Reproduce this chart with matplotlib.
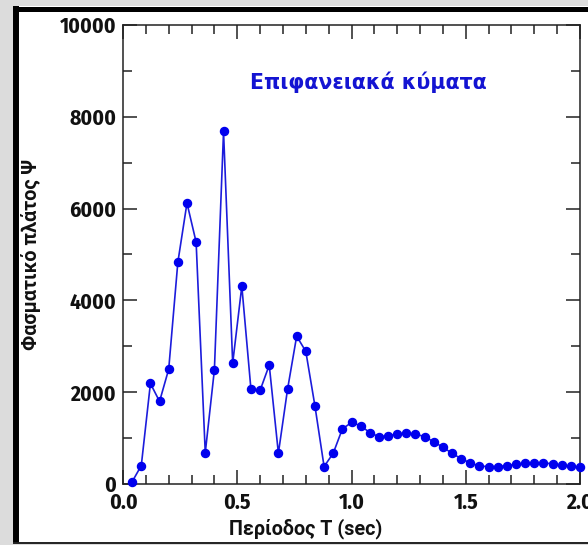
import numpy as np
import matplotlib
matplotlib.use("Agg")
import matplotlib.pyplot as plt
from matplotlib.lines import Line2D
from matplotlib.patches import Rectangle
from matplotlib.ticker import MultipleLocator

# period T (sec) and spectral amplitude
period = [0.04, 0.08, 0.12, 0.16, 0.20, 0.24, 0.28, 0.32, 0.36, 0.40,
          0.44, 0.48, 0.52, 0.56, 0.60, 0.64, 0.68, 0.72, 0.76, 0.80,
          0.84, 0.88, 0.92, 0.96, 1.00, 1.04, 1.08, 1.12, 1.16, 1.20,
          1.24, 1.28, 1.32, 1.36, 1.40, 1.44, 1.48, 1.52, 1.56, 1.60,
          1.64, 1.68, 1.72, 1.76, 1.80, 1.84, 1.88, 1.92, 1.96, 2.00]
amplitude = [50, 400, 2190, 1800, 2500, 4830, 6120, 5270, 680, 2490,
             7680, 2630, 4310, 2060, 2040, 2590, 670, 2060, 3220, 2890,
             1700, 380, 670, 1200, 1340, 1270, 1120, 1030, 1050, 1090,
             1110, 1090, 1030, 920, 800, 670, 550, 460, 390, 380,
             380, 400, 430, 450, 460, 460, 440, 410, 390, 360]

title = "Επιφανειακά κύματα"
xlab = "Περίοδος Τ (sec)"
ylab = "Φασματικό πλάτος Ψ"

narrow = ["Fira Sans Condensed", "DejaVu Sans"]
sans = ["Roboto", "Noto Sans", "DejaVu Sans"]

fig = plt.figure(figsize=(5.88, 5.45), dpi=100)
fig.patch.set_facecolor("#dcdcdc")

# white panel with thick dark frame (cropped on the right)
W, H = 588.0, 545.0
fig.patches.append(Rectangle((13 / W, 3 / H), 1.0, (539 - 3) / H,
                             transform=fig.transFigure, facecolor="white",
                             edgecolor="none", zorder=-2))
fig.lines.append(Line2D([16 / W, 16 / W], [2 / H, 539 / H], transform=fig.transFigure,
                        color="black", lw=4.3, solid_capstyle="butt", zorder=-1))
fig.lines.append(Line2D([13 / W, 1.0], [(H - 8.5) / H, (H - 8.5) / H], transform=fig.transFigure,
                        color="black", lw=3.6, solid_capstyle="butt", zorder=-1))
fig.lines.append(Line2D([13 / W, 1.0], [2.5 / H, 2.5 / H], transform=fig.transFigure,
                        color="#222222", lw=1.4, solid_capstyle="butt", zorder=-1))

ax = fig.add_axes([123 / W, 61 / H, 457 / W, 459 / H])
ax.set_facecolor("white")

ax.plot(period, amplitude, color="#1c1cdc", lw=1.2, marker="o", markersize=5.8,
        markerfacecolor="#0000ee", markeredgecolor="#0000ee", clip_on=False, zorder=3)

ax.set_xlim(0, 2.0)
ax.set_ylim(0, 10000)
ax.xaxis.set_major_locator(MultipleLocator(0.5))
ax.xaxis.set_minor_locator(MultipleLocator(0.1))
ax.yaxis.set_major_locator(MultipleLocator(2000))
ax.yaxis.set_minor_locator(MultipleLocator(1000))
ax.xaxis.set_major_formatter(matplotlib.ticker.FormatStrFormatter("%.1f"))

for s in ax.spines.values():
    s.set_linewidth(1.1)
    s.set_color("#222222")

ax.tick_params(which="both", direction="in", top=True, right=True, color="#222222", width=1.1)
ax.tick_params(which="major", length=10)
ax.tick_params(which="minor", length=6.5)
ax.tick_params(axis="x", pad=6)
ax.tick_params(axis="y", pad=5)

for lab in ax.get_xticklabels() + ax.get_yticklabels():
    lab.set_family(narrow)
    lab.set_fontweight("bold")
    lab.set_fontsize(15.5)
    lab.set_color("#111111")

ax.set_xlabel(xlab, family=sans, fontweight="bold", fontsize=14.2, color="#111111")
ax.xaxis.set_label_coords(0.40, -0.075)
ax.set_ylabel(ylab, family=sans, fontweight="bold", fontsize=14.2, color="#111111")
ax.yaxis.set_label_coords(-0.18, 0.5)

ax.text(0.536, 0.875, title, transform=ax.transAxes, ha="center", va="center",
        fontsize=14.8, fontweight="bold", color="#1414d2", family=["DejaVu Sans"])

fig.savefig("out.png", dpi=100, facecolor=fig.get_facecolor())
